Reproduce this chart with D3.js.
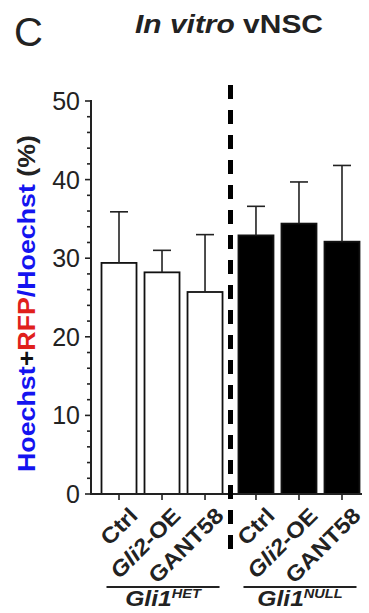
<!DOCTYPE html>
<html>
<head>
<meta charset="utf-8">
<script src="https://cdn.jsdelivr.net/npm/d3@7"></script>
<style>
  html, body { margin: 0; padding: 0; background: #fff; }
  svg { display: block; font-family: "Liberation Sans", Arial, sans-serif; }
</style>
</head>
<body>
<div id="chart"></div>
<script>
// values (mean % and upper SD)
const groups = ["HET", "NULL"];
const categories = ["Ctrl", "Gli2-OE", "GANT58"];
const hetMeans = [29.4, 28.2, 25.7];
const hetSD = [6.5, 2.8, 7.3];
const nullMeans = [32.9, 34.4, 32.1];
const nullSD = [3.7, 5.3, 9.7];
const yTicks = [0, 10, 20, 30, 40, 50];

const data = [];
categories.forEach((c, i) => data.push({ group: "HET", cat: c, mean: hetMeans[i], sd: hetSD[i] }));
categories.forEach((c, i) => data.push({ group: "NULL", cat: c, mean: nullMeans[i], sd: nullSD[i] }));

const W = 369, H = 613;
const svg = d3.select("#chart").append("svg")
    .attr("width", W)
    .attr("height", H);

// stretch text a bit wider, the figure's font runs wide
function stretch(sel, k) {
    sel.each(function () {
        const len = this.getComputedTextLength();
        d3.select(this).attr("textLength", len * k).attr("lengthAdjust", "spacingAndGlyphs");
    });
}

// scales
const y = d3.scaleLinear().domain([0, 50]).range([494, 101]);
const xGroup = d3.scaleBand().domain(groups).range([97.5, 363.5]).paddingInner(0.058);
const xCat = d3.scaleBand().domain(categories).range([0, xGroup.bandwidth()])
    .paddingInner(0.186).paddingOuter(0.093);
const cx = d => xGroup(d.group) + xCat(d.cat) + xCat.bandwidth() / 2;

// panel letter + title
svg.append("text")
    .attr("x", 14).attr("y", 46)
    .attr("font-size", 40)
    .attr("fill", "#222")
    .text("C");

const title = svg.append("text")
    .attr("x", 135).attr("y", 33)
    .attr("font-size", 25)
    .attr("font-weight", "bold")
    .attr("fill", "#222");
title.append("tspan").attr("font-style", "italic").text("In vitro");
title.append("tspan").text(" vNSC");
title.attr("textLength", 188).attr("lengthAdjust", "spacingAndGlyphs");

// bars
svg.selectAll(".bar")
    .data(data)
    .enter()
    .append("rect")
    .attr("class", "bar")
    .attr("x", d => xGroup(d.group) + xCat(d.cat))
    .attr("width", xCat.bandwidth())
    .attr("y", d => y(d.mean))
    .attr("height", d => y(0) - y(d.mean))
    .attr("fill", d => d.group === "HET" ? "#fff" : "#000")
    .attr("stroke", "#111")
    .attr("stroke-width", 1.8);

// error bars (upper only)
const err = svg.selectAll(".err").data(data).enter().append("g").attr("class", "err")
    .attr("stroke", "#222").attr("stroke-width", 1.6);
err.append("line")
    .attr("x1", cx).attr("x2", cx)
    .attr("y1", d => y(d.mean)).attr("y2", d => y(d.mean + d.sd));
err.append("line")
    .attr("x1", d => cx(d) - 9).attr("x2", d => cx(d) + 9)
    .attr("y1", d => y(d.mean + d.sd)).attr("y2", d => y(d.mean + d.sd));

// y axis
const yAxis = svg.append("g").attr("transform", "translate(91,0)");
yAxis.append("line").attr("y1", y(50) - 1).attr("y2", y(0)).attr("stroke", "#222").attr("stroke-width", 2);
const minor = d3.range(0, 51, 2);
yAxis.selectAll(".minor").data(minor).enter().append("line")
    .attr("x1", d => d % 10 === 0 ? -6 : -4).attr("x2", 0)
    .attr("y1", d => y(d)).attr("y2", d => y(d))
    .attr("stroke", "#222").attr("stroke-width", 1.6);
yAxis.selectAll(".lab").data(yTicks).enter().append("text")
    .attr("x", -11).attr("y", d => y(d))
    .attr("dy", "0.36em")
    .attr("text-anchor", "end")
    .attr("font-size", 25)
    .attr("fill", "#222")
    .text(d => d);

// x axis
svg.append("line")
    .attr("x1", 90).attr("x2", 362)
    .attr("y1", y(0)).attr("y2", y(0))
    .attr("stroke", "#222").attr("stroke-width", 2);
svg.selectAll(".xtick").data(data).enter().append("line")
    .attr("x1", cx).attr("x2", cx)
    .attr("y1", y(0)).attr("y2", y(0) + 6)
    .attr("stroke", "#222").attr("stroke-width", 1.6);

const xl = svg.selectAll(".xlab").data(data).enter().append("text")
    .attr("class", "xlab")
    .attr("transform", d => `translate(${cx(d) + 20},${y(0) + 23}) rotate(-45)`)
    .attr("text-anchor", "end")
    .attr("font-size", 22)
    .attr("font-weight", "bold")
    .attr("fill", "#222");
xl.each(function (d) {
    const t = d3.select(this);
    if (d.cat === "Gli2-OE") {
        t.append("tspan").attr("font-style", "italic").text("Gli2");
        t.append("tspan").text("-OE");
    } else {
        t.text(d.cat);
    }
});
stretch(xl, 1.1);

// dashed divider
const divX = (xGroup("HET") + xGroup.bandwidth() + xGroup("NULL")) / 2;
svg.append("line")
    .attr("x1", divX).attr("x2", divX)
    .attr("y1", 85).attr("y2", 557)
    .attr("stroke", "#000").attr("stroke-width", 5)
    .attr("stroke-dasharray", "14,11");

// group underlines + labels
groups.forEach(g => {
    const x0 = xGroup(g) + 9, x1 = xGroup(g) + xGroup.bandwidth() - 7;
    svg.append("line")
        .attr("x1", x0).attr("x2", x1)
        .attr("y1", 587).attr("y2", 587)
        .attr("stroke", "#222").attr("stroke-width", 2);
    const t = svg.append("text")
        .attr("x", (x0 + x1) / 2).attr("y", 606)
        .attr("text-anchor", "middle")
        .attr("font-weight", "bold")
        .attr("font-style", "italic")
        .attr("fill", "#222");
    t.append("tspan").attr("font-size", 22).text("Gli1");
    t.append("tspan").attr("font-size", 13).attr("dy", -8).text(g);
    stretch(t, 1.12);
});

// y axis title
const yt = svg.append("text")
    .attr("transform", "translate(35,303.5) rotate(-90)")
    .attr("text-anchor", "middle")
    .attr("font-size", 23)
    .attr("font-weight", "bold");
yt.append("tspan").attr("fill", "#1414f0").text("Hoechst");
yt.append("tspan").attr("fill", "#111").text("+");
yt.append("tspan").attr("fill", "#e0201c").text("RFP");
yt.append("tspan").attr("fill", "#1414f0").text("/Hoechst");
yt.append("tspan").attr("fill", "#222").text(" (%)");
yt.attr("textLength", 337).attr("lengthAdjust", "spacingAndGlyphs");
</script>
</body>
</html>
